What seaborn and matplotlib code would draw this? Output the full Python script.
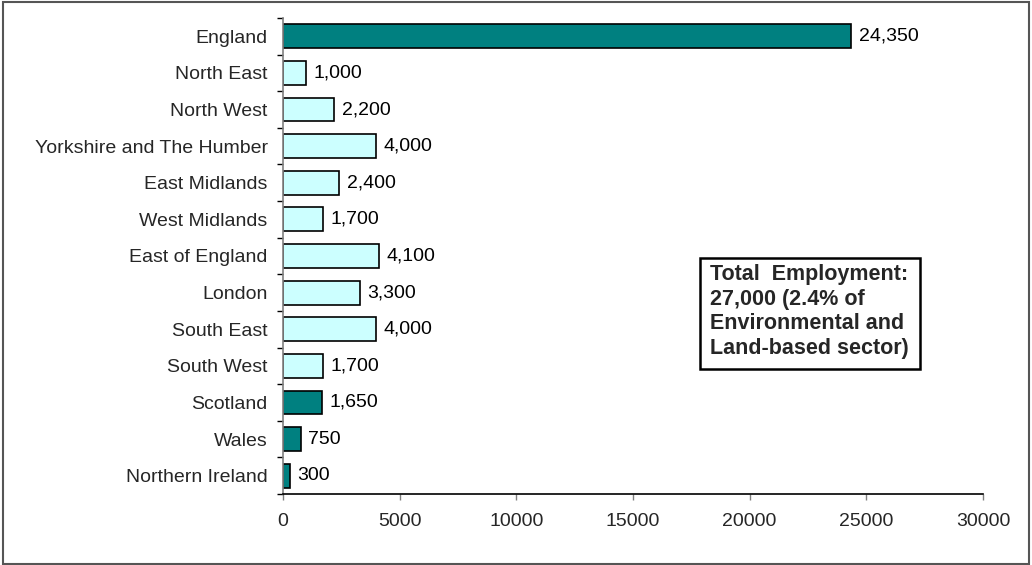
import matplotlib
matplotlib.use("Agg")
import matplotlib.pyplot as plt
from matplotlib.patches import Rectangle
from matplotlib.ticker import FixedLocator
import seaborn as sns
import pandas as pd

regions = ["England", "North East", "North West", "Yorkshire and The Humber",
           "East Midlands", "West Midlands", "East of England", "London",
           "South East", "South West", "Scotland", "Wales", "Northern Ireland"]
employment = [24350, 1000, 2200, 4000, 2400, 1700, 4100, 3300, 4000, 1700,
              1650, 750, 300]
level = ["Nation", "Region", "Region", "Region", "Region", "Region", "Region",
         "Region", "Region", "Region", "Nation", "Nation", "Nation"]
x_ticks = [0, 5000, 10000, 15000, 20000, 25000, 30000]
note = "Total  Employment:\n27,000 (2.4% of\nEnvironmental and\nLand-based sector)"

df = pd.DataFrame({"region": regions, "employment": employment, "level": level})

sns.set_style("white")
plt.rcParams["font.family"] = ["Liberation Sans", "DejaVu Sans"]

W, H = 1032, 565
fig = plt.figure(figsize=(W / 100, H / 100), dpi=100)
ax = fig.add_axes([283 / W, 1 - 494 / H, 700 / W, 476 / H])

sns.barplot(data=df, x="employment", y="region", hue="level",
            palette={"Nation": "#008080", "Region": "#CCFFFF"}, saturation=1,
            dodge=False, width=0.65, edgecolor="black", linewidth=1.2,
            legend=False, ax=ax, order=regions)

for cont in ax.containers:
    ax.bar_label(cont, labels=[f"{v:,.0f}" if v == v else "" for v in cont.datavalues],
                 padding=5.5, fontsize=14, color="black")

ax.set_xlim(0, 30000)
ax.set_ylim(len(regions) - 0.5, -0.5)
ax.set_xlabel("")
ax.set_ylabel("")
ax.set_xticks(x_ticks)
ax.set_xticklabels([str(t) for t in x_ticks], fontsize=14)
ax.tick_params(axis="x", direction="out", length=4.5, width=1, color="#808080",
               pad=9, bottom=True)

# category labels without marks; marks sit between categories
ax.tick_params(axis="y", which="major", length=0, pad=11, labelsize=14, left=True)
ax.yaxis.set_minor_locator(FixedLocator([i - 0.5 for i in range(len(regions) + 1)]))
ax.tick_params(axis="y", which="minor", direction="out", length=4, width=1,
               color="black", left=True)

for side in ("top", "right"):
    ax.spines[side].set_visible(False)
ax.spines["left"].set_color("#808080")
ax.spines["left"].set_linewidth(1.2)
ax.spines["bottom"].set_color("black")
ax.spines["bottom"].set_linewidth(1.2)

# annotation box
bx0, by0, bx1, by1 = 700, 258, 920, 369
fig.patches.append(Rectangle((bx0 / W, 1 - by1 / H), (bx1 - bx0) / W, (by1 - by0) / H,
                             transform=fig.transFigure, fill=True, facecolor="white",
                             edgecolor="black", linewidth=1.8, zorder=5))
fig.text(710 / W, 1 - 264 / H, note, fontsize=15.5, fontweight="bold",
         ha="left", va="top", linespacing=1.22, zorder=6)

# outer frame
fig.patches.append(Rectangle((3 / W, 1 / H), 1026 / W, 562 / H,
                             transform=fig.transFigure, fill=False,
                             edgecolor="#555555", linewidth=1.5))

fig.savefig("out.png", dpi=100)
